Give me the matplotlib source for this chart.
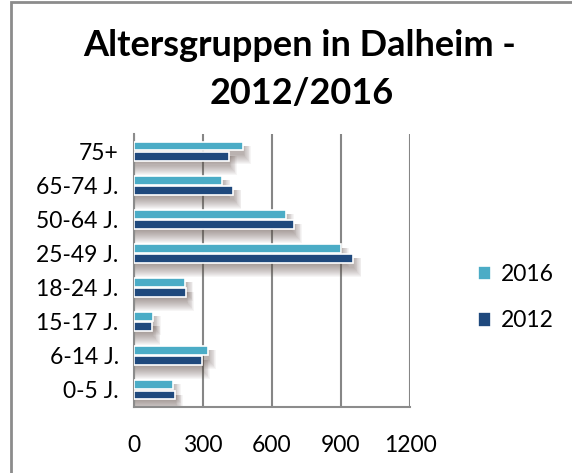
import numpy as np
import matplotlib.pyplot as plt
from matplotlib.patches import Rectangle

plt.rcParams['font.family'] = ['Lato', 'DejaVu Sans']

# Daten
gruppen = ['0-5 J.', '6-14 J.', '15-17 J.', '18-24 J.', '25-49 J.', '50-64 J.', '65-74 J.', '75+']
werte_2016 = [168, 322, 81, 223, 900, 660, 384, 474]
werte_2012 = [178, 296, 80, 226, 954, 696, 432, 413]
x_ticks = [0, 300, 600, 900, 1200]

farbe_2016 = '#4BACC6'
farbe_2012 = '#1F497D'

fig = plt.figure(figsize=(5.72, 4.73), dpi=100)
ax = fig.add_axes([134 / 572, 1 - 407 / 473, 276 / 572, 273 / 473])

y = np.arange(len(gruppen))
h = 0.26
off = 0.148

# weicher Schatten unter den Balken
px_x = 1200 / 276
px_y = 1 / 34.1
for k in range(1, 11):
    for werte, yy in ((werte_2016, y + off), (werte_2012, y - off)):
        ax.barh(yy - (4 + k * 0.5) * px_y, np.array(werte) + (k * 0.8) * px_x,
                height=h + k * 1.0 * px_y, color='#5e4e47', alpha=0.05,
                linewidth=0, zorder=1)

ax.barh(y + off, werte_2016, height=h, color=farbe_2016, edgecolor='white',
        linewidth=1.2, label='2016', zorder=3)
ax.barh(y - off, werte_2012, height=h, color=farbe_2012, edgecolor='white',
        linewidth=1.2, label='2012', zorder=3)

ax.set_xlim(0, 1200)
ax.set_ylim(-0.5, len(gruppen) - 0.5)
ax.set_xticks(x_ticks)
ax.set_xticklabels([str(t) for t in x_ticks])
ax.set_yticks(y)
ax.set_yticklabels(gruppen)
ax.tick_params(axis='both', length=0, labelsize=16.5, colors='black')
ax.tick_params(axis='x', pad=20)
ax.tick_params(axis='y', pad=11)

ax.grid(axis='x', color='#868686', linewidth=1.5, zorder=0)
ax.set_axisbelow(True)
for s in ['top', 'right']:
    ax.spines[s].set_visible(False)
for s in ['left', 'bottom']:
    ax.spines[s].set_color('#8c8c8c')
    ax.spines[s].set_linewidth(1.5)

ax.legend(loc='center left', bbox_to_anchor=(1.17, 0.40), frameon=False,
          fontsize=16.5, handlelength=0.6, handleheight=0.6,
          handletextpad=0.4, labelspacing=1.1)

fig.text(300 / 572, 1 - 45 / 473, 'Altersgruppen in Dalheim -', ha='center',
         va='center', fontsize=26, fontweight='bold')
fig.text(302 / 572, 1 - 94 / 473, '2012/2016', ha='center', va='center',
         fontsize=26, fontweight='bold')

# Rahmen um das Diagramm
fig.patches.append(Rectangle((10.5 / 572, -0.05), 1.0, 1 - 2.5 / 473 + 0.05,
                             transform=fig.transFigure, fill=False,
                             edgecolor='#8c8c8c', linewidth=2))

fig.savefig('out.png', dpi=100)
